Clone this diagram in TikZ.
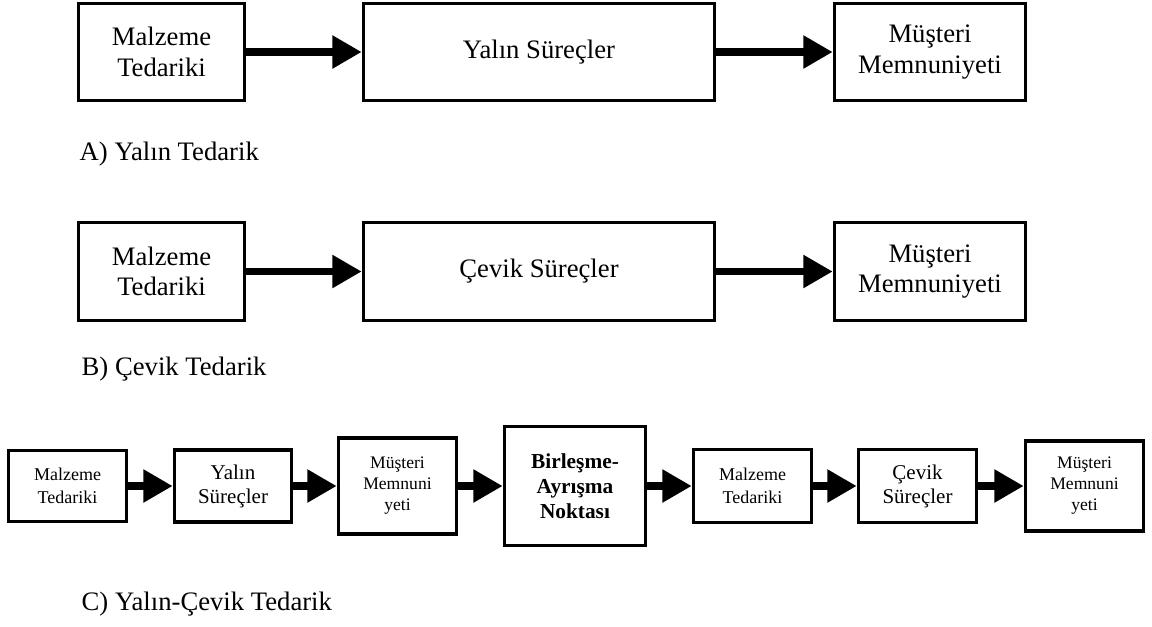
\documentclass[tikz,border=0pt]{standalone}
\usepackage{fontspec}
\setmainfont{Liberation Serif}
\usetikzlibrary{arrows.meta}
\begin{document}
\begin{tikzpicture}[x=0.75pt,y=-0.75pt,
  box/.style={draw, line width=2.7pt, inner sep=0pt, align=center},
  bigtxt/.style={font=\fontsize{20}{23}\selectfont},
  smalltxt/.style={font=\fontsize{13.5}{17.25}\selectfont},
  midtxt/.style={font=\fontsize{15.75}{18}\selectfont},
  tinytxt/.style={font=\fontsize{13.2}{15.75}\selectfont},
  boldtxt/.style={font=\fontsize{16}{18.75}\selectfont\bfseries},
  flow/.style={line width=5.8pt, -{Triangle[length=22pt,width=23.5pt]}},
  caption/.style={anchor=base west, font=\fontsize{20}{24}\selectfont},
]
\useasboundingbox (0,0) rectangle (1152,626);

% A) lean supply
\node[box, bigtxt, minimum width=124.5pt, minimum height=72.75pt] (a1) at (161.5,52) {Malzeme\\Tedariki};
\node[box, bigtxt, minimum width=263.25pt, minimum height=72.75pt] (a2) at (539,52) {Yalın Süreçler};
\node[box, bigtxt, minimum width=143.25pt, minimum height=72.75pt] (a3) at (930,52) {Müşteri\\Memnuniyeti};
\draw[flow] (a1) -- (a2);
\draw[flow] (a2) -- (a3);
\node[caption] (la) at (75,160) {A) Yalın Tedarik};

% B) agile supply
\node[box, bigtxt, minimum width=124.5pt, minimum height=73.5pt] (b1) at (161.5,271.5) {Malzeme\\Tedariki};
\node[box, bigtxt, minimum width=263.25pt, minimum height=73.5pt] (b2) at (539,271.5) {Çevik Süreçler};
\node[box, bigtxt, minimum width=143.25pt, minimum height=73.5pt] (b3) at (930,271.5) {Müşteri\\Memnuniyeti};
\draw[flow] (b1) -- (b2);
\draw[flow] (b2) -- (b3);
\node[caption] (lb) at (77,375) {B) Çevik Tedarik};

% C) lean-agile supply
\node[box, smalltxt, minimum width=88.5pt, minimum height=53.25pt] (c1) at (67.5,486) {Malzeme\\Tedariki};
\node[box, midtxt, minimum width=87.75pt, minimum height=54pt] (c2) at (233,486) {Yalın\\Süreçler};
\node[box, tinytxt, minimum width=88.5pt, minimum height=72pt] (c3) at (397.5,486) {Müşteri\\Memnuni\\yeti};
\node[box, boldtxt, minimum width=105.75pt, minimum height=89.25pt] (c4) at (575,486) {Birleşme-\\Ayrışma\\Noktası};
\node[box, smalltxt, minimum width=88.5pt, minimum height=54.75pt] (c5) at (752.5,486) {Malzeme\\Tedariki};
\node[box, midtxt, minimum width=88.5pt, minimum height=54.75pt] (c6) at (917.5,486) {Çevik\\Süreçler};
\node[box, tinytxt, minimum width=88.5pt, minimum height=67.5pt] (c7) at (1084.5,486) {Müşteri\\Memnuni\\yeti};
\draw[flow] (c1) -- (c2);
\draw[flow] (c2) -- (c3);
\draw[flow] (c3) -- (c4);
\draw[flow] (c4) -- (c5);
\draw[flow] (c5) -- (c6);
\draw[flow] (c6) -- (c7);
\node[caption] (lc) at (77,610) {C) Yalın-Çevik Tedarik};
\end{tikzpicture}
\end{document}
